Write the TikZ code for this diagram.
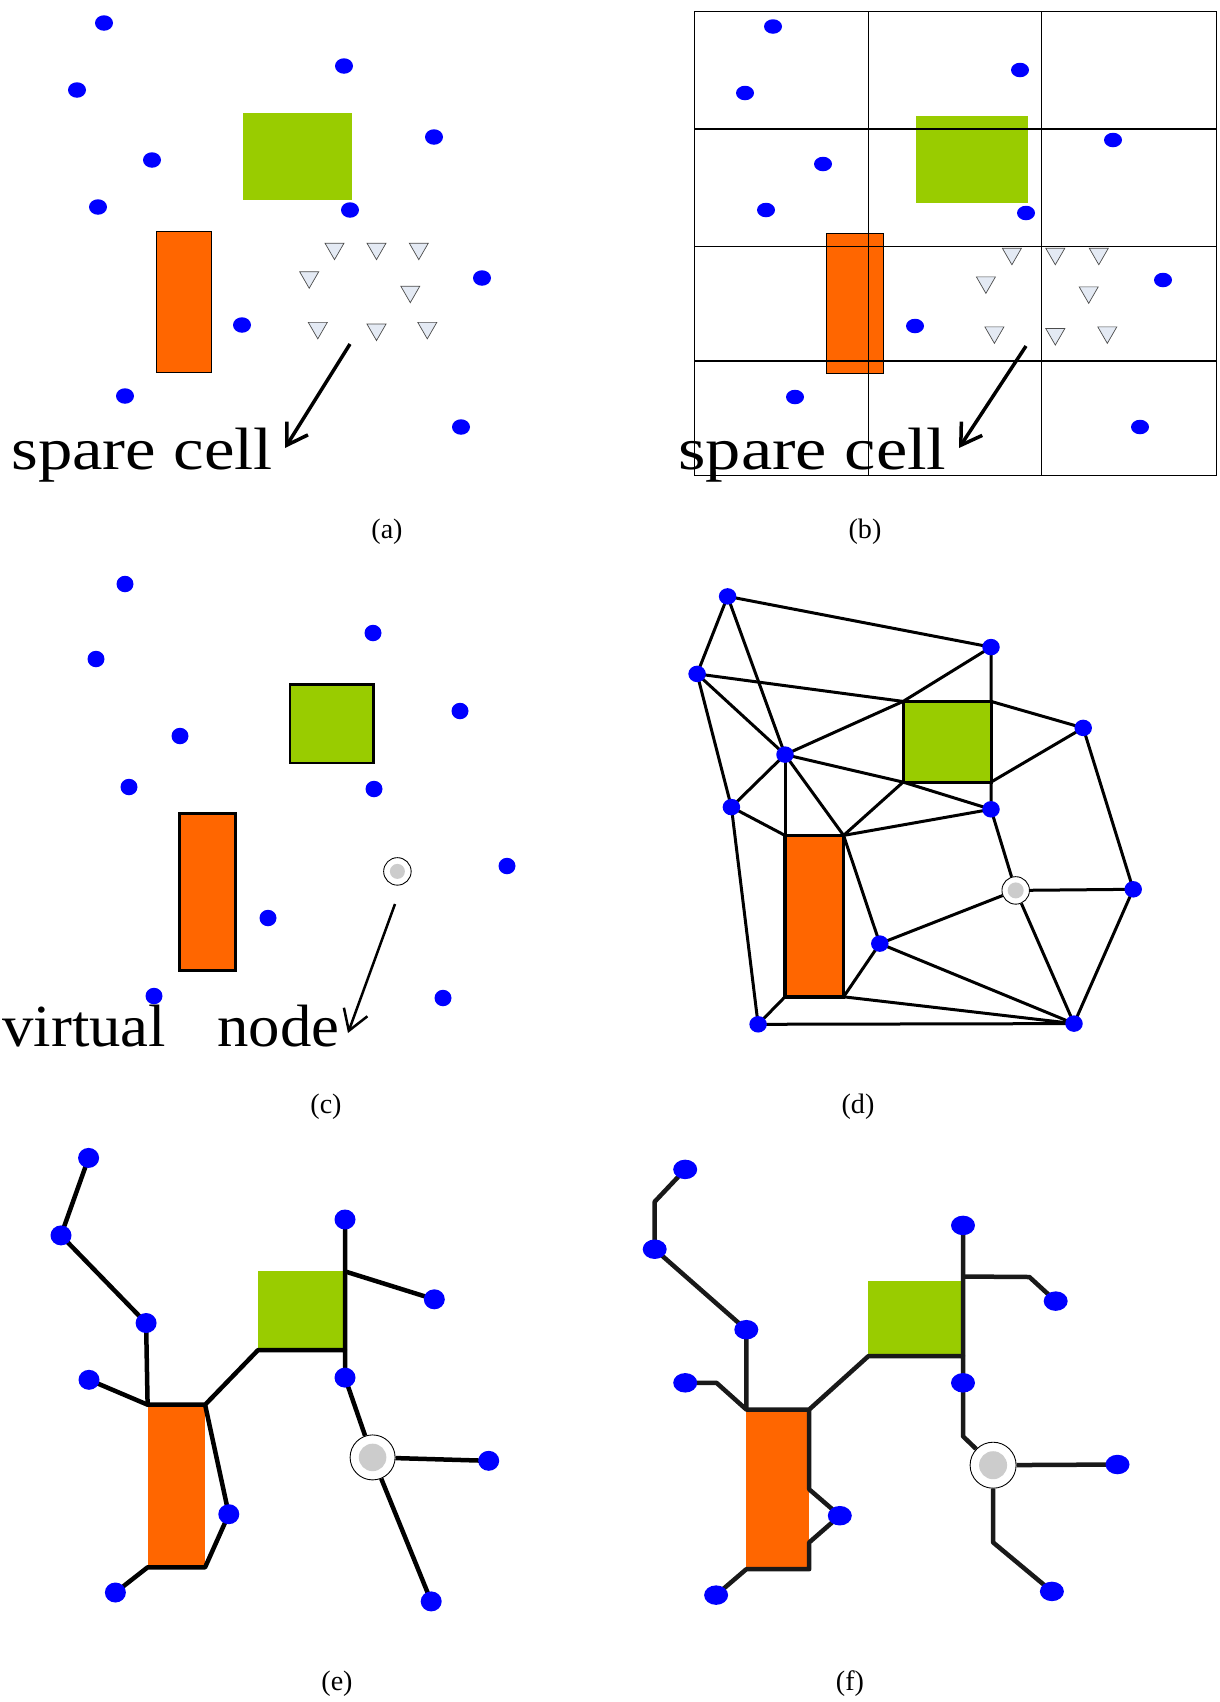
\documentclass[tikz,border=0pt]{standalone}
\usepackage{fontspec}
\setmainfont{Liberation Serif}
\usetikzlibrary{arrows.meta,shapes.geometric,fit}
\definecolor{termblue}{HTML}{0000FF}
\definecolor{leaf}{HTML}{99CC00}
\definecolor{blaze}{HTML}{FF6600}
\definecolor{ghost}{HTML}{CCCCCC}
\definecolor{frost}{HTML}{E4EAF4}
\tikzset{
  terminal/.style={ellipse, fill=termblue, inner sep=0pt,
    minimum width=3.6mm, minimum height=3.1mm},
  bigterminal/.style={terminal, minimum width=4.2mm, minimum height=4mm},
  wideterminal/.style={terminal, minimum width=4.8mm, minimum height=3.9mm},
  macroblk/.style={rectangle, fill=#1, inner sep=0pt, outer sep=0pt},
  sparecell/.style={regular polygon, regular polygon sides=3,
    shape border rotate=180, draw=black!70, fill=frost, line width=0.4pt,
    minimum size=4.4mm, inner sep=0pt, yshift=0.55mm},
  virtnode/.style={circle, draw=black, fill=white, line width=0.5pt,
    inner sep=0pt, minimum size=#1},
  virtcore/.style={circle, fill=ghost, inner sep=0pt, minimum size=#1},
  gridline/.style={line width=0.8pt},
  wire/.style={line width=0.6mm},
  treewire/.style={line width=0.9mm, line join=round},
  callout/.style={-{Straight Barb[length=4mm, width=5mm]}, line width=0.7mm},
  bigtext/.style={font=\fontsize{34}{40}\selectfont, anchor=base west, inner sep=0pt},
  caption/.style={font=\fontsize{16}{19}\selectfont}
}
\begin{document}
\begin{tikzpicture}[x=0.2mm, y=-0.2mm]
\useasboundingbox (0,0) rectangle (1219,1702);

% (a) placement with spare cells
\node[macroblk=leaf, fit={(243,113) (352,200)}] (agreen) {};
\node[macroblk=blaze, draw, line width=0.4pt, fit={(156,231) (211,372)}] (aorange) {};
\foreach \i/\x/\y in {1/104/23, 2/344/66, 3/77/90, 4/434/137, 5/152/160, 6/98/207,
                      7/350/210, 8/482/278, 9/242/325, 10/125/396, 11/461/427}
  \node[terminal] (a\i) at (\x,\y) {};
\foreach \i/\x/\y in {1/334.5/251.4, 2/376.5/251.4, 3/418.8/251.4, 4/309.2/280,
                      5/410.3/294.4, 6/317.8/330.6, 7/376.5/332.3, 8/427.3/330.6}
  \node[sparecell] (as\i) at (\x,\y) {};
\coordinate (atail) at (350,344);
\coordinate (ahead) at (285,448);
\draw[callout] (atail) -- (ahead);
\node[bigtext] (alabel) at (11,469) {\scalebox{1.15}[1]{spare cell}};
\node[caption] (acap) at (387,532) {(a)};

% (b) same placement on the bin grid
\node[macroblk=leaf, fit={(915.7,116) (1028.2,202.5)}] (bgreen) {};
\node[macroblk=blaze, draw, line width=0.4pt, fit={(826.4,233.5) (883.1,373.3)}] (borange) {};
\foreach \gx in {694.6,868.3,1041.7,1216.3}
  \draw[gridline] (\gx,11.4) -- (\gx,475.6);
\foreach \gy in {11.4,128.8,246.6,360.9,475.6}
  \draw[gridline] (694.6,\gy) -- (1216.3,\gy);
\foreach \i/\x/\y in {1/773/26.5, 2/1020/70, 3/745/93, 4/1113/140, 5/823/164, 6/766/210,
                      7/1026/213, 8/1163/280, 9/915/326, 10/795/397, 11/1140/427}
  \node[terminal, minimum height=2.9mm] (b\i) at (\x,\y) {};
\foreach \i/\x/\y in {1/1011.9/256.5, 2/1055.3/256.5, 3/1098.8/256.5, 4/985.9/285.1,
                      5/1088.7/295.1, 6/994.4/335.1, 7/1055.3/336.8, 8/1107.3/335.1}
  \node[sparecell] (bs\i) at (\x,\y) {};
\coordinate (btail) at (1026,346);
\coordinate (bhead) at (959,448);
\draw[callout] (btail) -- (bhead);
\node[bigtext] (blabel) at (678,469) {\scalebox{1.18}[1]{spare cell}};
\node[caption] (bcap) at (865,532) {(b)};

% (c) spare cells merged into a virtual node
\node[macroblk=leaf, draw, line width=0.5mm, fit={(290.2,684.6) (373.7,763.2)}] (cgreen) {};
\node[macroblk=blaze, draw, line width=0.6mm, fit={(179.5,813.9) (235.4,970.7)}] (corange) {};
\foreach \i/\x/\y in {1/125/584, 2/373/633, 3/96/659, 4/460/711, 5/180/736, 6/129/787,
                      7/374/789, 8/507/866, 9/268/918, 10/154/996, 11/443/998}
  \node[terminal, minimum width=3.4mm, minimum height=3.3mm] (c\i) at (\x,\y) {};
\node[virtnode=5.5mm] (cv) at (397.4,871.4) {};
\node[virtcore=3mm] (cvc) at (cv) {};
\coordinate (ctail) at (395,904);
\coordinate (chead) at (348,1033);
\draw[callout, line width=0.5mm] (ctail) -- (chead);
\node[bigtext] (clabel) at (2,1046) {\scalebox{1.05}[1]{virtual\hspace{0.82em}node}};
\node[caption] (ccap) at (326,1107) {(c)};

% (d) obstacle-aware connection graph
\node[macroblk=leaf, draw, line width=0.6mm, fit={(903.1,701.4) (991,782.1)}] (dgreen) {};
\node[macroblk=blaze, draw, line width=0.7mm, fit={(785,835.4) (843.6,996.8)}] (dorange) {};
\foreach \n/\x/\y in {A/727.6/596.4, B/991/647.1, C/697.1/673.9, D/785/754.6,
                      E/1083.2/727.9, F/731.4/807.1, G/991/809.3, H/1133.2/889.3,
                      I/879.8/943.6, J/758.1/1024.3, K/1074/1023.6}
  \coordinate (d\n) at (\x,\y);
\node[virtnode=5.5mm] (dV) at (1015.7,890.4) {};
\node[virtcore=3.2mm] (dVc) at (dV) {};
\foreach \u/\v in {dA/dB, dA/dC, dA/dD, dC/dgreen.north west, dB/dgreen.north west,
                   dB/dgreen.north east, dD/dgreen.north west, dC/dD, dC/dF, dD/dF,
                   dD/dorange.north west, dD/dorange.north east, dD/dgreen.south west,
                   dgreen.south west/dG, dgreen.south west/dorange.north east,
                   dgreen.north east/dE, dgreen.south east/dE, dgreen.south east/dG,
                   dorange.north east/dG, dF/dorange.north west, dF/dJ, dE/dH,
                   dG/dV, dV/dH, dV/dI, dV/dK, dH/dK, dorange.north east/dI,
                   dI/dorange.south east, dI/dK, dorange.south east/dK, dJ/dK,
                   dJ/dorange.south west}
  \draw[wire] (\u) -- (\v);
\foreach \n in {A,B,C,D,E,F,G,H,I,J,K}
  \node[terminal, minimum width=3.5mm, minimum height=3.3mm] (d\n node) at (d\n) {};
\node[caption] (dcap) at (858,1107) {(d)};

% (e) Steiner tree through the obstacles
\node[macroblk=leaf, fit={(258,1271.4) (345,1350.1)}] (egreen) {};
\node[macroblk=blaze, fit={(147.6,1404.7) (205.1,1567.3)}] (eorange) {};
\foreach \i/\x/\y in {1/88.6/1157.9, 2/61/1235.4, 3/146.1/1323, 4/89/1379.8,
                      5/345/1219.5, 6/434.3/1299.3, 7/345/1377.6, 8/488.7/1460.8,
                      9/228.8/1514.2, 10/115.4/1592.5, 11/431.2/1601.4}
  \coordinate (e\i) at (\x,\y);
\node[virtnode=9mm] (ev) at (372.6,1457.4) {};
\node[virtcore=5.5mm] (evc) at (ev) {};
\draw[treewire] (e1) -- (e2) -- (e3) -- (eorange.north west);
\draw[treewire] (e4) -- (eorange.north west) -- (eorange.north east)
  -- (egreen.south west) -- (egreen.south east) -- (e7);
\draw[treewire] (egreen.south east) -- (e5);
\draw[treewire] (egreen.north east) -- (e6);
\draw[treewire] (e7) -- (ev);
\draw[treewire] (ev) -- (e8);
\draw[treewire] (ev) -- (e11);
\draw[treewire] (eorange.north east) -- (e9) -- (eorange.south east)
  -- (eorange.south west) -- (e10);
\foreach \i in {1,...,11}
  \node[bigterminal] (e\i node) at (e\i) {};
\node[caption] (ecap) at (337,1684) {(e)};

% (f) rectilinear tree
\node[macroblk=leaf, fit={(868.4,1281.1) (963,1356.1)}] (fgreen) {};
\node[macroblk=blaze, fit={(746.3,1409.5) (809.2,1569.2)}] (forange) {};
\foreach \i/\x/\y in {1/685.2/1169.4, 2/654.7/1249.2, 3/746.3/1329.7, 4/685.2/1382.8,
                      5/963/1225.4, 6/1055.7/1301.1, 7/963/1382.8, 8/1117.5/1464.5,
                      9/839.8/1515.7, 10/716.1/1595.1, 11/1051.9/1591.4}
  \coordinate (f\i) at (\x,\y);
\node[virtnode=9.2mm] (fv) at (993.1,1465.2) {};
\node[virtcore=5.6mm] (fvc) at (fv) {};
\coordinate (fb1) at (654.7,1201.7);
\coordinate (fb2) at (716.5,1382.8);
\coordinate (fb3) at (963,1276.5);
\coordinate (fb4) at (1029.4,1277);
\coordinate (fb5) at (963,1436.3);
\coordinate (fb6) at (993.1,1542.4);
\coordinate (fb7) at (809.2,1489.3);
\coordinate (fb8) at (809.2,1542.4);
\begin{scope}[black!90]
\draw[treewire] (f1) -- (fb1) -- (f2) -- (f3) -- (forange.north west);
\draw[treewire] (f4) -- (fb2) -- (forange.north west) -- (forange.north east)
  -- (fgreen.south west) -- (fgreen.south east) -- (f7);
\draw[treewire] (fgreen.south east) -- (f5);
\draw[treewire] (fb3) -- (fb4) -- (f6);
\draw[treewire] (f7) -- (fb5) -- (fv);
\draw[treewire] (fv) -- (f8);
\draw[treewire] (fv) -- (fb6) -- (f11);
\draw[treewire] (forange.north east) -- (fb7) -- (f9) -- (fb8)
  -- (forange.south east) -- (forange.south west) -- (f10);
\end{scope}
\foreach \i in {1,...,11}
  \node[wideterminal] (f\i node) at (f\i) {};
\node[caption] (fcap) at (850,1684) {(f)};
\end{tikzpicture}
\end{document}
